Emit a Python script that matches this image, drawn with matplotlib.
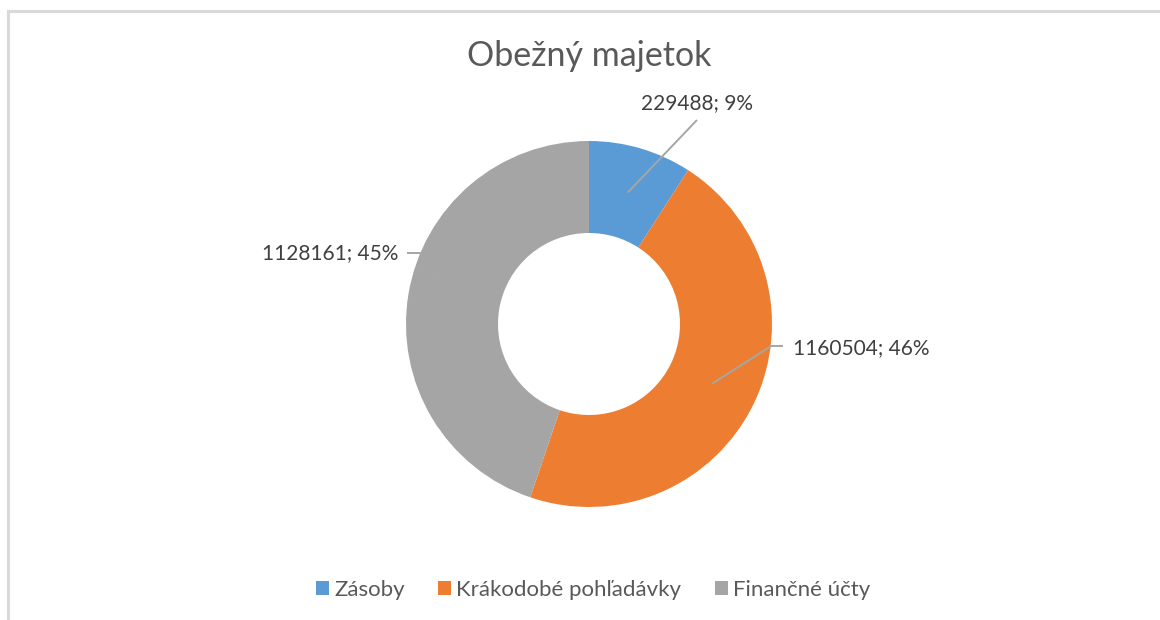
import numpy as np
import matplotlib.pyplot as plt
from matplotlib.patches import Patch

plt.rcParams['font.family'] = ['Lato', 'DejaVu Sans']

title = "Obežný majetok"
categories = ["Zásoby", "Krákodobé pohľadávky", "Finančné účty"]
values = [229488, 1160504, 1128161]
colors = ["#5b9bd5", "#ed7d31", "#a5a5a5"]

W, H = 1160, 620
cx, cy = 589, H - 324
r_out, r_in = 183, 91

fig = plt.figure(figsize=(W / 100, H / 100), dpi=100)
ax = fig.add_axes([0, 0, 1, 1])

wedges, _ = ax.pie(values, colors=colors, startangle=90, counterclock=False,
                   center=(cx, cy), radius=r_out,
                   wedgeprops=dict(width=r_out - r_in, linewidth=0))
ax.set_xlim(0, W)
ax.set_ylim(0, H)
ax.set_aspect('equal')
ax.set_axis_off()

# chart border (only top and left visible in the crop)
ax.plot([8, 8, W + 5], [-5, H - 11, H - 11], color="#d9d9d9", lw=2.2,
        solid_joinstyle='miter', clip_on=False)

ax.text(cx, H - 56, title, ha='center', va='center', fontsize=24.5, color="#595959")

total = sum(values)
# label placement: (elbow offset from center, horizontal tail, text anchor offset, ha)
placing = [
    ((108, 204), 0, (108, 221), 'center'),
    ((182, -22), 12, (204, -24), 'left'),
    ((-169, 71), -13, (-191, 71), 'right'),
]
line_c = "#a6a6a6"
for w, v, (elb, tail, tpos, ha) in zip(wedges, values, placing):
    mid = np.deg2rad((w.theta1 + w.theta2) / 2)
    rm = (r_out + r_in) / 2
    x0, y0 = cx + rm * np.cos(mid), cy + rm * np.sin(mid)
    x1, y1 = cx + elb[0], cy + elb[1]
    ax.plot([x0, x1, x1 + tail], [y0, y1, y1], color=line_c, lw=1.4,
            solid_capstyle='butt')
    pct = round(v / total * 100)
    ax.text(cx + tpos[0], cy + tpos[1], f"{v}; {pct}%", ha=ha, va='center',
            fontsize=15, color="#404040")

handles = [Patch(facecolor=c, edgecolor='none') for c in colors]
fig.legend(handles, categories, loc='center', bbox_to_anchor=(593 / W, 1 - 590 / H),
           ncol=3, frameon=False, fontsize=16, handlelength=0.6, handleheight=0.6,
           handletextpad=0.23, columnspacing=1.5, labelcolor="#595959")

fig.savefig("out.png", dpi=100)
